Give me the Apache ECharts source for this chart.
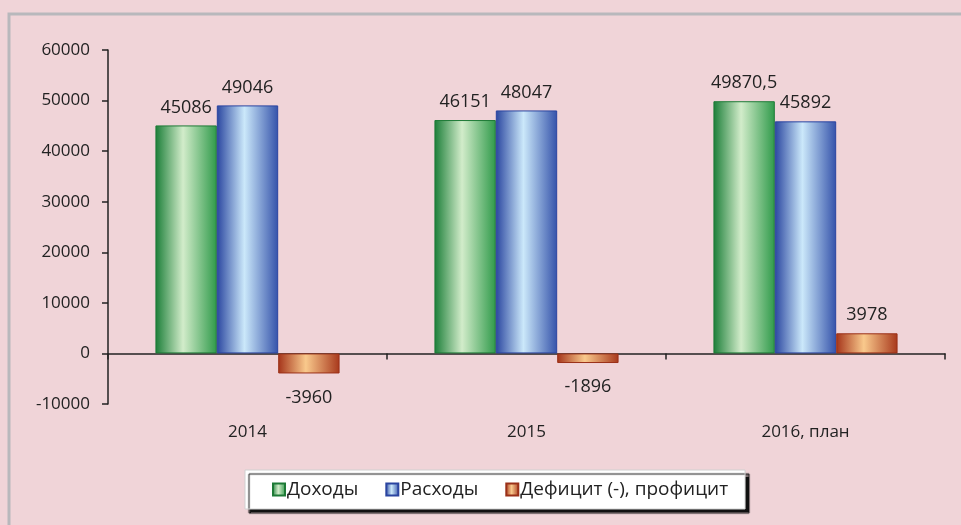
<!DOCTYPE html>
<html>
<head>
<meta charset="utf-8">
<script src="https://cdn.jsdelivr.net/npm/echarts@6/dist/echarts.min.js"></script>
<style>
  html, body { margin: 0; padding: 0; background: #f0d4d8; }
  #chart { width: 961px; height: 525px; }
</style>
</head>
<body>
<div id="chart"></div>
<script>
// данные с картинки
const years = ['2014', '2015', '2016, план'];
const dohody = [45086, 46151, 49870.5];
const rashody = [49046, 48047, 45892];
const deficit = [-3960, -1896, 3978];
const yTicks = { min: -10000, max: 60000, interval: 10000 };

const FONT = '"Open Sans", "Noto Sans", sans-serif';

function grad(edge, mid, edge2) {
    return new echarts.graphic.LinearGradient(0, 0, 1, 0, [
        { offset: 0, color: edge },
        { offset: 0.45, color: mid },
        { offset: 1, color: edge2 }
    ]);
}

function fmt(v) {
    return String(v).replace('.', ',');
}

function barSeries(name, values, fill, border) {
    return {
        name: name,
        type: 'bar',
        barGap: 0,
        barCategoryGap: '34%',
        itemStyle: { color: fill, borderColor: border, borderWidth: 1 },
        data: values.map(function (v) {
            return {
                value: v,
                label: {
                    position: v < 0 ? 'bottom' : 'top',
                    distance: v < 0 ? 15 : 9
                }
            };
        }),
        label: {
            show: true,
            fontFamily: FONT,
            fontSize: 18,
            color: '#222',
            formatter: function (p) { return fmt(p.value); }
        }
    };
}

document.addEventListener('DOMContentLoaded', function () {
    const chart = echarts.init(document.getElementById('chart'));

    chart.setOption({
        backgroundColor: '#f0d4d8',
        animation: false,
        graphic: [{
            type: 'polyline',
            shape: { points: [[9, 525], [9, 14], [961, 14]] },
            style: { stroke: '#b8b8bc', lineWidth: 3, fill: null }
        }],
        legend: {
            left: 245,
            top: 470,
            padding: [10, 17, 10, 27],
            itemGap: 27,
            itemWidth: 12,
            itemHeight: 12,
            icon: 'rect',
            backgroundColor: '#ffffff',
            borderColor: '#d0d0d0',
            borderWidth: 1,
            shadowColor: '#111',
            shadowBlur: 1,
            shadowOffsetX: 4,
            shadowOffsetY: 4,
            textStyle: { fontFamily: FONT, fontSize: 19, color: '#222', padding: [0, 0, 0, -3] },
            data: ['Доходы', 'Расходы', 'Дефицит (-), профицит']
        },
        grid: { left: 108, right: 16, top: 50, bottom: 121 },
        xAxis: [{
            type: 'category',
            data: years,
            axisLine: { show: false, onZero: false },
            axisTick: { show: false },
            axisLabel: { margin: 20, fontFamily: FONT, fontSize: 17, color: '#222' }
        }, {
            type: 'category',
            data: years,
            position: 'bottom',
            axisLine: { onZero: true, lineStyle: { color: '#222', width: 1.5 } },
            axisTick: { show: true, length: 6, lineStyle: { color: '#222', width: 1.5 } },
            axisLabel: { show: false }
        }],
        yAxis: {
            type: 'value',
            min: yTicks.min,
            max: yTicks.max,
            interval: yTicks.interval,
            splitLine: { show: false },
            axisLine: { show: true, lineStyle: { color: '#222', width: 1.5 } },
            axisTick: { show: true, length: 6, lineStyle: { color: '#222', width: 1.5 } },
            axisLabel: {
                margin: 18, fontFamily: FONT, fontSize: 17, color: '#222',
                formatter: function (v) { return String(v); }
            }
        },
        series: [
            barSeries('Доходы', dohody, grad('#1b7e38', '#d2ecca', '#2f9a4a'), '#1d7a36'),
            barSeries('Расходы', rashody, grad('#2a46a0', '#cbe8fa', '#3452aa'), '#2a44a0'),
            barSeries('Дефицит (-), профицит', deficit, grad('#a5341a', '#f9c98c', '#a8381c'), '#9a3018')
        ]
    });
});
</script>
</body>
</html>
